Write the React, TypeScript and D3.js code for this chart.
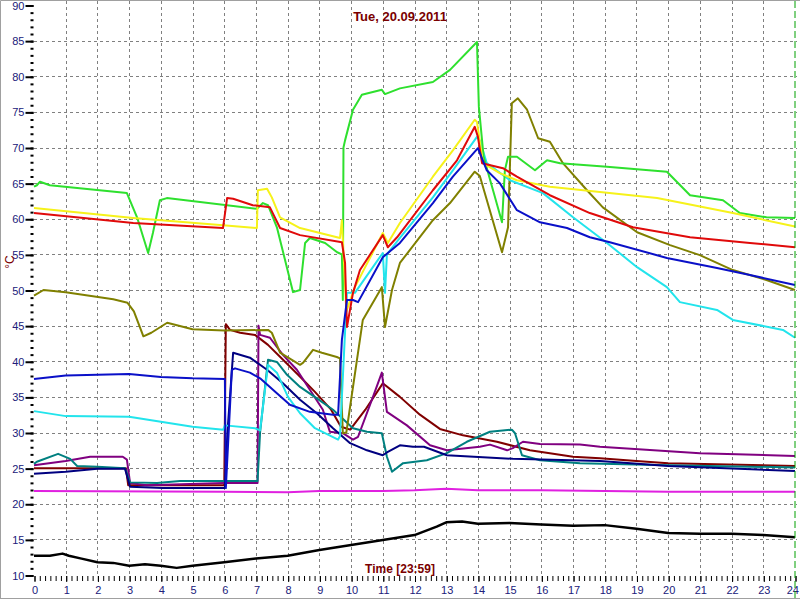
import React, { useEffect, useRef } from 'react';
import * as d3 from 'd3';

type Pt = [number, number];

// hour of day, temperature in °C
const greenSeries: Pt[] = [
    [0, 64.5], [0.09, 64.7], [0.19, 65.2], [0.5, 64.7], [2.93, 63.6], [3.25, 60.2], [3.6, 55.2], [3.75, 58],
    [3.97, 62.6], [4.19, 62.9], [7.03, 61.4], [7.22, 62.2], [7.38, 61.9], [7.66, 58.8], [8.17, 49.7], [8.39, 50],
    [8.55, 56.6], [8.7, 57.3], [9.18, 56.6], [9.56, 55.3], [9.71, 55], [9.74, 48.6], [9.76, 70], [9.81, 71],
    [10.06, 75.3], [10.34, 77.4], [10.97, 78.1], [11.07, 77.5], [11.54, 78.3], [12.58, 79.2], [13.12, 80.9],
    [13.97, 84.8], [14.03, 75.7], [14.18, 68.7], [14.76, 59.5], [14.85, 66.8], [14.95, 68.7], [15.23, 68.7],
    [15.8, 66.8], [16.18, 68.2], [16.59, 67.8], [18.07, 67.3], [19.96, 66.6], [20.69, 63.3], [21.73, 62.6],
    [22.26, 60.8], [23.1, 60.2], [24, 60.1],
];
const yellowSeries: Pt[] = [
    [0, 61.5], [3.13, 60.1], [5.96, 59.1], [7.03, 58.7], [7.06, 64], [7.35, 64.2], [7.5, 63], [7.76, 60.2],
    [8.39, 58.7], [9.65, 57.3], [9.71, 59.8], [9.74, 57], [9.85, 47], [10.12, 50.4], [11.0, 58], [11.16, 56.6],
    [11.54, 59.4], [12.58, 65.9], [13.21, 69.6], [13.9, 73.9], [13.97, 73.6], [14.16, 67.8], [14.69, 66.4],
    [15.23, 65.4], [16.27, 64.5], [19.65, 62.9], [22.04, 60.8], [24, 58.9],
];
const redSeries: Pt[] = [
    [0, 60.8], [3.13, 59.4], [5.96, 58.7], [6.09, 62.9], [6.28, 62.8], [6.9, 61.9], [7.44, 61.6], [7.76, 58.7],
    [8.39, 57.7], [9.71, 56.7], [9.81, 53.8], [9.87, 44.8], [10.06, 49.6], [10.28, 52.8], [11.0, 57.7],
    [11.16, 56], [11.45, 57.4], [12.58, 64], [13.34, 68.2], [13.9, 72.9], [14.0, 71.5], [14.13, 67.8],
    [14.79, 67.1], [15.23, 65.9], [16.27, 63.3], [17.53, 60.8], [18.89, 58.8], [20.69, 57.4], [22.58, 56.6],
    [24, 56],
];
const cyanSeries: Pt[] = [
    [0, 33], [1, 32.3], [3, 32.2], [4, 31.5], [5, 30.8], [5.97, 30.4], [6.02, 31], [6.97, 30.6], [7.13, 30.3],
    [7.38, 39.5], [7.66, 38.4], [8.01, 35], [8.39, 32.7], [8.86, 30.6], [9.59, 29], [9.65, 29.5], [9.87, 49.6],
    [10.12, 49.6], [11.0, 55.2], [11.07, 49.6], [11.13, 55], [11.54, 57.3], [12.58, 63], [13.21, 66.8],
    [13.97, 71.5], [14.06, 71], [14.28, 67.8], [15.01, 65.4], [16.05, 63.6], [17.0, 60.2], [18.07, 56.6],
    [19.02, 53.2], [19.96, 50.4], [20.37, 48.3], [21.54, 47.2], [22.04, 45.8], [23.62, 44.4], [24, 43.3],
];
const blueSeries: Pt[] = [
    [0, 37.5], [1, 38], [3, 38.2], [4, 37.8], [5, 37.6], [6.02, 37.5], [6.05, 22.2], [6.24, 38.8], [6.34, 39],
    [6.81, 38.4], [7.13, 37.6], [7.66, 35.5], [8.07, 33.9], [8.7, 32.9], [9.43, 32.5], [9.59, 32.5], [9.71, 43],
    [9.87, 48.6], [10.06, 48.6], [10.22, 48.3], [11.0, 54.6], [11.54, 56.6], [12.58, 62.2], [13.21, 65.9],
    [14.0, 69.9], [14.28, 66.8], [14.69, 65], [15.23, 61.2], [15.96, 59.5], [16.81, 58.7], [17.53, 57.4],
    [18.16, 56.7], [19.96, 54.5], [21.54, 53.1], [22.58, 52.1], [24, 50.7],
];
const oliveSeries: Pt[] = [
    [0, 49.2], [0.3, 50], [1, 49.7], [2.5, 48.7], [2.95, 48.2], [3.15, 47], [3.45, 43.5], [3.7, 44], [4.2, 45.4],
    [5, 44.5], [6, 44.3], [7.38, 44.4], [7.5, 44], [7.76, 41.2], [8.39, 39.5], [8.49, 39.8], [8.8, 41.6],
    [9.08, 41.2], [9.55, 40.6], [9.65, 40.4], [9.74, 29.9], [9.85, 30], [10.37, 45.8], [10.97, 50.4],
    [11.07, 44.8], [11.29, 50], [11.54, 53.8], [12.58, 59.8], [13.12, 62.2], [13.9, 66.6], [14.06, 66],
    [14.76, 55.3], [14.95, 58.8], [15.07, 76.2], [15.26, 76.9], [15.55, 75.3], [15.9, 71.3], [16.27, 70.8],
    [16.68, 67.8], [17.44, 64], [17.94, 61.6], [19.02, 58.1], [20.06, 56.3], [21.0, 54.9], [22.04, 52.8],
    [23.1, 51.4], [24, 50],
];
const maroonSeries: Pt[] = [
    [0, 25], [2.9, 25], [2.97, 22.6], [6.0, 22.6], [6.05, 45.2], [6.18, 44.4], [6.5, 44], [6.97, 43.7],
    [7.38, 42.3], [7.79, 40.5], [8.33, 38.1], [8.86, 35.7], [9.37, 33.2], [9.68, 30.8], [9.97, 30.4],
    [10.45, 33.2], [11.0, 36.9], [11.54, 35], [12.17, 32.5], [12.8, 30.5], [13.53, 29.6], [14.6, 28.7],
    [15.64, 27.5], [17.0, 26.6], [17.85, 26.4], [19, 26], [20, 25.7], [24, 25.3],
];
const purpleSeries: Pt[] = [
    [0, 25.4], [1, 26], [1.77, 26.6], [2.8, 26.6], [2.93, 26.2], [3.03, 22.9], [3.56, 22.6], [6, 22.9],
    [7.05, 22.9], [7.08, 45], [7.13, 43.7], [7.44, 43.3], [7.85, 40.9], [8.29, 38.8], [8.7, 36], [9.11, 33.2],
    [9.33, 30.1], [9.74, 29.9], [10.06, 29], [10.22, 29.4], [10.69, 35], [10.97, 38.4], [11.13, 32.9],
    [11.76, 31], [12.49, 28.2], [13.02, 27.5], [14.06, 28], [14.38, 28.3], [14.92, 27.5], [15.1, 27.8],
    [15.42, 28.7], [15.96, 28.4], [17.22, 28.3], [17.85, 28], [21, 27.1], [24, 26.7],
];
const tealSeries: Pt[] = [
    [0, 25.6], [0.09, 25.9], [0.76, 27], [1.14, 26.3], [1.36, 25.3], [2.0, 25.2], [2.87, 25], [3.03, 23],
    [3.88, 22.9], [4.6, 23.2], [7.05, 23.2], [7.13, 30], [7.38, 40.2], [7.66, 39.9], [7.98, 38.1], [8.39, 36.4],
    [8.92, 34.8], [9.43, 33.2], [10.06, 30.6], [10.5, 30.1], [10.97, 29.9], [11.13, 26.6], [11.29, 24.5],
    [11.64, 25.7], [12.39, 26.1], [13.02, 27.1], [13.65, 28.7], [14.38, 30.1], [15.07, 30.4], [15.17, 29.9],
    [15.39, 26.8], [15.96, 26.1], [17.22, 25.7], [20, 25.4], [24, 25.1],
];
const navySeries: Pt[] = [
    [0, 24.2], [1, 24.5], [2.0, 24.9], [2.87, 24.9], [3.03, 22.4], [4.07, 22.2], [6.02, 22.2], [6.1, 30],
    [6.28, 41.2], [6.81, 40.5], [7.35, 38.8], [7.85, 36.9], [8.39, 34.6], [8.92, 32.7], [9.43, 30.6],
    [9.97, 28.5], [10.5, 27.5], [11.0, 26.8], [11.13, 27.2], [11.54, 28.2], [11.95, 28], [12.3, 28],
    [13.02, 26.8], [15.1, 26.3], [17.85, 26], [20, 25.3], [24, 24.6],
];
const magentaSeries: Pt[] = [
    [0, 21.8], [6, 21.7], [8, 21.6], [9, 21.8], [11, 21.8], [12, 21.9], [13, 22.1], [14, 21.9], [16, 21.9],
    [18, 21.8], [20, 21.7], [24, 21.7],
];
const blackSeries: Pt[] = [
    [0, 12.7], [0.5, 12.7], [0.9, 13], [1.1, 12.7], [1.5, 12.3], [2, 11.8], [2.5, 11.7], [3, 11.3], [3.5, 11.5],
    [4, 11.3], [4.5, 11.0], [5, 11.3], [6, 11.8], [7, 12.3], [8, 12.7], [9, 13.5], [10, 14.2], [11, 14.9],
    [12, 15.6], [12.7, 16.8], [13, 17.4], [13.5, 17.5], [14, 17.2], [15, 17.3], [16, 17.1], [17, 16.9],
    [18, 17.0], [19, 16.5], [20, 15.9], [21, 15.8], [22, 15.8], [23, 15.6], [24, 15.3],
];

const yTicks = [10, 15, 20, 25, 30, 35, 40, 45, 50, 55, 60, 65, 70, 75, 80, 85, 90];
const xTicks = d3.range(0, 25);
const title = 'Tue, 20.09.2011';
const xTitle = 'Time [23:59]';
const yTitle = '°C';

const series: { data: Pt[]; color: string; width: number }[] = [
    { data: magentaSeries, color: '#e020e0', width: 2 },
    { data: blackSeries, color: '#000000', width: 2.5 },
    { data: maroonSeries, color: '#800000', width: 2 },
    { data: purpleSeries, color: '#800080', width: 2 },
    { data: tealSeries, color: '#008080', width: 2 },
    { data: navySeries, color: '#000080', width: 2 },
    { data: oliveSeries, color: '#808000', width: 2 },
    { data: cyanSeries, color: '#22e4ec', width: 2 },
    { data: greenSeries, color: '#2ee02e', width: 2 },
    { data: yellowSeries, color: '#f6f21a', width: 2 },
    { data: redSeries, color: '#e00a0a', width: 2 },
    { data: blueSeries, color: '#0a10c8', width: 2 },
];

const App: React.FC = () => {
    const ref = useRef<SVGSVGElement>(null);

    useEffect(() => {
        const svg = d3.select(ref.current);
        svg.selectAll('*').remove();

        const x = d3.scaleLinear().domain([0, 24]).range([34, 795]);
        const y = d3.scaleLinear().domain([10, 90]).range([575, 5]);
        const font = '"Liberation Sans", Arial, sans-serif';

        // frame
        svg.append('path')
            .attr('d', 'M0.5,599 V0.5 H800 M0,598.5 H800')
            .attr('fill', 'none')
            .attr('stroke', '#a0a0a0');

        // grid
        const grid = svg.append('g').attr('stroke', '#808080').attr('stroke-dasharray', '3,3');
        yTicks.filter(t => t > 10 && t < 90).forEach(t => {
            grid.append('line')
                .attr('x1', 34).attr('x2', 797)
                .attr('y1', Math.round(y(t)) + 0.5).attr('y2', Math.round(y(t)) + 0.5);
        });
        xTicks.filter(t => t > 0 && t < 24).forEach(t => {
            grid.append('line')
                .attr('x1', Math.round(x(t)) + 0.5).attr('x2', Math.round(x(t)) + 0.5)
                .attr('y1', 1).attr('y2', 576);
        });

        // y axis: minor then major ticks
        const yMinor = svg.append('g').attr('transform', 'translate(33.5,0.5)')
            .call(d3.axisLeft(y).tickValues(d3.range(10, 91, 1)).tickSize(3).tickFormat(() => ''));
        const yMajor = svg.append('g').attr('transform', 'translate(33.5,0.5)')
            .call(d3.axisLeft(y).tickValues(yTicks).tickSize(8).tickPadding(1));
        [yMinor, yMajor].forEach(g => {
            g.select('.domain').remove();
            g.selectAll('line').attr('stroke', '#000').attr('stroke-width', 2);
        });
        yMajor.selectAll('text').attr('fill', '#20207a').style('font', `11px ${font}`);

        // x axis
        const xMinor = svg.append('g').attr('transform', 'translate(0.5,576)')
            .call(d3.axisBottom(x).tickValues(d3.range(0, 24 * 6 + 1).map(i => i / 6)).tickSize(5).tickFormat(() => ''));
        const xMajor = svg.append('g').attr('transform', 'translate(0.5,576)')
            .call(d3.axisBottom(x).tickValues(xTicks).tickSize(6).tickPadding(4).tickFormat(d3.format('d')));
        [xMinor, xMajor].forEach(g => {
            g.select('.domain').remove();
            g.selectAll('line').attr('stroke', '#000').attr('stroke-width', 1);
        });
        xMajor.selectAll('text').attr('fill', '#20207a').style('font', `11px ${font}`);
        // keep the last label inside the picture
        xMajor.selectAll<SVGTextElement, number>('text')
            .filter(d => d === 24)
            .attr('text-anchor', 'end')
            .attr('dx', 3);

        // lines
        const line = d3.line<Pt>().x(d => x(d[0])).y(d => y(d[1]));
        series.forEach(s => {
            svg.append('path')
                .datum(s.data)
                .attr('d', line)
                .attr('fill', 'none')
                .attr('stroke', s.color)
                .attr('stroke-width', s.width)
                .attr('stroke-linejoin', 'round');
        });

        // current time marker
        svg.append('line')
            .attr('x1', x(24)).attr('x2', x(24))
            .attr('y1', 1).attr('y2', 598)
            .attr('stroke', '#00a000')
            .attr('stroke-dasharray', '7,3');

        // titles
        svg.append('text')
            .attr('x', 400).attr('y', 21)
            .attr('text-anchor', 'middle')
            .attr('fill', '#7a0000')
            .style('font', `bold 13px ${font}`)
            .text(title);
        svg.append('text')
            .attr('x', 400).attr('y', 573)
            .attr('text-anchor', 'middle')
            .attr('fill', '#7a0000')
            .style('font', `bold 12px ${font}`)
            .text(xTitle);
        svg.append('text')
            .attr('transform', 'translate(14,262) rotate(-90)')
            .attr('text-anchor', 'middle')
            .attr('fill', '#7a0000')
            .style('font', `12px ${font}`)
            .text(yTitle);
    }, []);

    return (
        <svg ref={ref} width={800} height={600}
            style={{ position: 'absolute', left: 0, top: 0, background: '#fff' }} />
    );
};

export default App;
